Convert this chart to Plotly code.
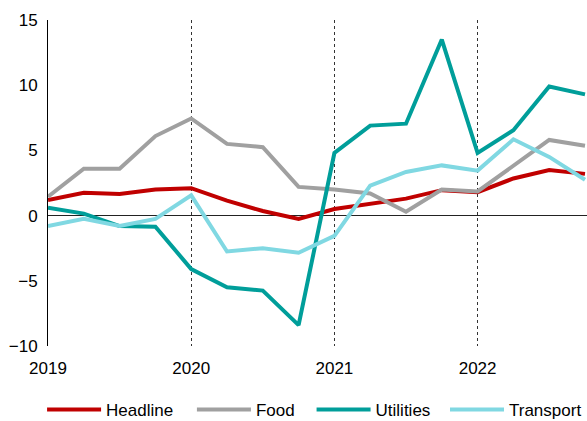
import plotly.graph_objects as go

# quarterly readings, 2019 Q1 .. 2022 Q4
years = [2019] * 4 + [2020] * 4 + [2021] * 4 + [2022] * 4
quarters = [1, 2, 3, 4] * 4

headline = [1.2, 1.75, 1.65, 2.0, 2.1, 1.15, 0.35, -0.25, 0.5, 0.9, 1.3, 1.95, 1.8, 2.85, 3.5, 3.2]
food = [1.45, 3.6, 3.6, 6.1, 7.45, 5.5, 5.25, 2.2, 2.0, 1.7, 0.3, 2.0, 1.85, 3.85, 5.8, 5.35]
utilities = [0.6, 0.15, -0.8, -0.85, -4.1, -5.5, -5.75, -8.4, 4.8, 6.9, 7.05, 13.5, 4.8, 6.55, 9.9, 9.3]
transport = [-0.8, -0.25, -0.8, -0.25, 1.55, -2.75, -2.5, -2.85, -1.55, 2.3, 3.35, 3.85, 3.45, 5.85, 4.5, 2.75]

year_ticks = [2019, 2020, 2021, 2022]

series = [
    ("Headline", headline, "#C00000"),
    ("Food", food, "#A0A0A0"),
    ("Utilities", utilities, "#009E9A"),
    ("Transport", transport, "#80D8E2"),
]

x = [y + (q - 1) / 4 for y, q in zip(years, quarters)]

FONT = "Liberation Sans, Arial, sans-serif"

fig = go.Figure()
legend_ids = ["legend", "legend2", "legend3", "legend4"]
for (name, vals, color), lid in zip(series, legend_ids):
    fig.add_trace(go.Scatter(
        x=x, y=vals, mode="lines", name=name,
        line=dict(color=color, width=4),
        legend=lid,
    ))

# each legend entry placed on its own so the spacing follows the original
legend_x = [-0.011, 0.267, 0.489, 0.749]
for lid, lx in zip(legend_ids, legend_x):
    fig.update_layout({lid: dict(
        orientation="h", x=lx, xanchor="left",
        yref="container", y=0.026, yanchor="middle",
        font=dict(family=FONT, size=17, color="#000000"),
        bgcolor="rgba(0,0,0,0)", itemwidth=54,
    )})

fig.update_layout(
    width=587, height=421,
    paper_bgcolor="white", plot_bgcolor="white",
    margin=dict(l=48, r=0, t=20, b=75),
    font=dict(family=FONT, size=16, color="#000000"),
    showlegend=True,
    xaxis=dict(
        range=[2019, 2022.764],
        tickvals=year_ticks, ticktext=[str(v) for v in year_ticks],
        showgrid=True, gridcolor="#333333", gridwidth=1, griddash="dot",
        showline=False, zeroline=False, ticks="",
        ticklabelstandoff=10,
        tickfont=dict(size=17),
    ),
    yaxis=dict(
        range=[-10, 15], tickvals=[-10, -5, 0, 5, 10, 15],
        showgrid=False, showline=True, linecolor="#000000", linewidth=1,
        zeroline=True, zerolinecolor="#222222", zerolinewidth=1,
        ticks="", ticklabelstandoff=6,
        tickfont=dict(size=17),
    ),
)

# drop the default page margin so the figure fills the window exactly
fig.write_html(
    "out.html",
    config={"displayModeBar": False},
    post_script="document.body.style.margin='0';",
)
